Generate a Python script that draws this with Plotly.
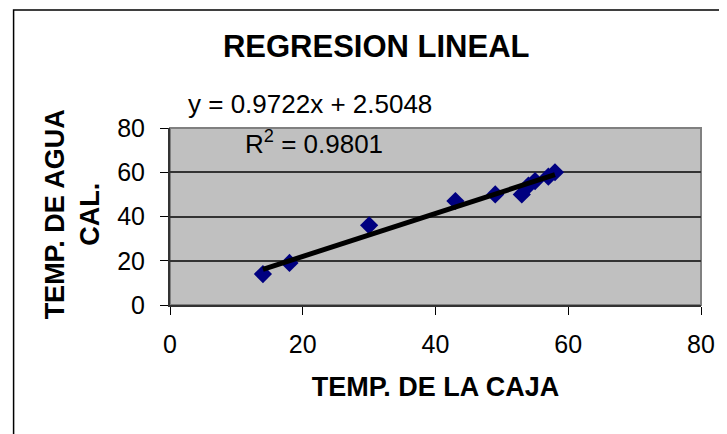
import plotly.graph_objects as go

# readings from the picture
temp_caja = [14, 18, 30, 43, 49, 53, 54, 55, 57, 58]
temp_agua = [14, 19, 36, 47, 50, 50, 54, 56, 58, 60]

slope = 0.9722
intercept = 2.5048
r2 = 0.9801

axis_ticks = [0, 20, 40, 60, 80]

# page body adds an 8px margin, so the figure is shrunk by that amount
OFF = 8
W, H = 727 - OFF, 434 - OFF
L, T = 170 - OFF, 128 - OFF
R = W - (703 - OFF)
B = H - (305 - OFF)
pw, ph = W - L - R, H - T - B


def px(x):
    return (x - OFF - L) / pw


def py(y):
    return (H - B - (y - OFF)) / ph


font = "Liberation Sans, Arial, sans-serif"

x_fit = [min(temp_caja), max(temp_caja)]
y_fit = [slope * v + intercept for v in x_fit]

fig = go.Figure()

fig.add_trace(
    go.Scatter(
        x=temp_caja,
        y=temp_agua,
        mode="markers",
        marker=dict(symbol="diamond", size=14, color="#000080",
                    line=dict(width=0)),
        showlegend=False
    )
)

fig.add_trace(
    go.Scatter(
        x=x_fit,
        y=y_fit,
        mode="lines",
        line=dict(color="black", width=5),
        showlegend=False
    )
)

fig.update_layout(
    width=W,
    height=H,
    margin=dict(l=L, r=R, t=T, b=B),
    paper_bgcolor="white",
    plot_bgcolor="#C0C0C0",
    font=dict(family=font, color="black", size=25),
    title=dict(
        text="<b>REGRESION LINEAL</b>",
        font=dict(size=31),
        xref="paper", x=px(377), xanchor="center",
        yref="container", y=1 - (46 - OFF) / H, yanchor="middle"
    ),
)

fig.update_xaxes(
    range=[0, 80],
    tickvals=axis_ticks,
    showgrid=False,
    zeroline=False,
    showline=True, linecolor="#333333", linewidth=2,
    ticks="outside", ticklen=8, tickcolor="black",
    ticklabelstandoff=8,
    title=dict(text="<b>TEMP. DE LA CAJA</b>", standoff=20,
               font=dict(size=27)),
)

fig.update_yaxes(
    range=[0, 80],
    tickvals=axis_ticks,
    showgrid=True, gridcolor="#333333", gridwidth=1.5,
    zeroline=False,
    showline=True, linecolor="#333333", linewidth=2,
    ticks="outside", ticklen=8, tickcolor="black",
    ticklabelstandoff=10,
)

# plot area border in gray
fig.add_shape(type="rect", xref="paper", yref="paper", x0=0, x1=1, y0=0, y1=1,
              line=dict(color="#808080", width=2), layer="below")

# outer chart border
fig.add_shape(type="rect", xref="paper", yref="paper",
              x0=px(13), x1=px(745), y0=py(450), y1=py(10),
              line=dict(color="black", width=1.5))

fig.add_annotation(
    text="<b>TEMP. DE AGUA<br>CAL.</b>",
    xref="paper", yref="paper", x=px(72), y=py(214),
    showarrow=False, textangle=-90, font=dict(size=27),
    xanchor="center", yanchor="middle"
)

fig.add_annotation(
    text=f"y = {slope}x + {intercept}",
    xref="paper", yref="paper", x=px(186), y=py(104),
    showarrow=False, xanchor="left", yanchor="middle", font=dict(size=26)
)

fig.add_annotation(
    text=f"R<sup>2</sup> = {r2}",
    xref="paper", yref="paper", x=px(243), y=py(142),
    showarrow=False, xanchor="left", yanchor="middle", font=dict(size=26)
)

fig.write_html("out.html")
